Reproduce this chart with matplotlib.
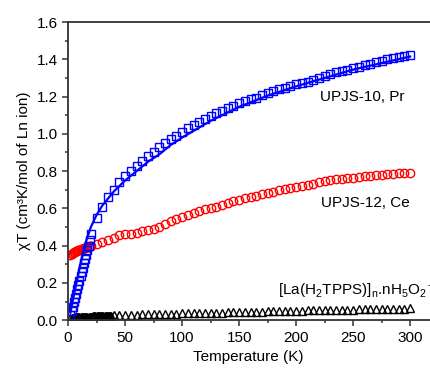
import matplotlib.pyplot as plt
from matplotlib.ticker import MultipleLocator

plt.rcParams['font.family'] = ['Liberation Sans', 'DejaVu Sans']
plt.rcParams['mathtext.fontset'] = 'custom'
plt.rcParams['mathtext.rm'] = 'Liberation Sans'
plt.rcParams['mathtext.it'] = 'Liberation Sans:italic'

# UPJS-10, Pr : chiT data (blue squares)
pr_t = [2, 3, 4, 5, 6, 7, 8, 9, 10, 11, 12, 13, 14, 15, 16, 17, 18, 19, 20,
        25, 30, 35, 40, 45, 50, 55, 60, 65, 70, 75, 80, 85, 90, 95, 100,
        105, 110, 115, 120, 125, 130, 135, 140, 145, 150, 155, 160, 165, 170,
        175, 180, 185, 190, 195, 200, 205, 210, 215, 220, 225, 230, 235, 240,
        245, 250, 255, 260, 265, 270, 275, 280, 285, 290, 295, 300]
pr_chi = [0.03, 0.05, 0.07, 0.095, 0.12, 0.14, 0.165, 0.19, 0.21, 0.235, 0.26,
          0.28, 0.305, 0.33, 0.35, 0.375, 0.40, 0.43, 0.46,
          0.55, 0.61, 0.66, 0.70, 0.74, 0.775, 0.80, 0.83, 0.855, 0.88, 0.905,
          0.93, 0.95, 0.975, 0.99, 1.01, 1.03, 1.045, 1.065, 1.08, 1.095, 1.11,
          1.125, 1.14, 1.15, 1.165, 1.175, 1.185, 1.195, 1.21, 1.22, 1.23, 1.24,
          1.245, 1.255, 1.265, 1.275, 1.28, 1.29, 1.30, 1.31, 1.32, 1.33, 1.335,
          1.345, 1.355, 1.36, 1.37, 1.375, 1.385, 1.39, 1.40, 1.405, 1.41, 1.42,
          1.425]

# Pr fit (blue line)
fit_t = [2, 5, 10, 15, 20, 25, 30, 40, 50, 60, 70, 80, 90, 100, 125, 150,
         175, 200, 225, 250, 275, 300]
fit_chi = [0.04, 0.13, 0.28, 0.41, 0.50, 0.565, 0.615, 0.69, 0.75, 0.80, 0.85,
           0.89, 0.94, 0.98, 1.07, 1.145, 1.205, 1.255, 1.30, 1.345, 1.38, 1.415]

# UPJS-12, Ce (red circles)
ce_t = [2, 3, 4, 5, 6, 7, 8, 9, 10, 11, 12, 13, 14, 15, 16, 17, 18, 19, 20,
        25, 30, 35, 40, 45, 50, 55, 60, 65, 70, 75, 80, 85, 90, 95, 100,
        105, 110, 115, 120, 125, 130, 135, 140, 145, 150, 155, 160, 165, 170,
        175, 180, 185, 190, 195, 200, 205, 210, 215, 220, 225, 230, 235, 240,
        245, 250, 255, 260, 265, 270, 275, 280, 285, 290, 295, 300]
ce_chi = [0.35, 0.355, 0.36, 0.365, 0.368, 0.37, 0.373, 0.376, 0.378, 0.38,
          0.382, 0.384, 0.386, 0.388, 0.39, 0.392, 0.395, 0.397, 0.40,
          0.41, 0.42, 0.43, 0.44, 0.455, 0.46, 0.465, 0.47, 0.478, 0.485, 0.49,
          0.50, 0.515, 0.53, 0.545, 0.555, 0.565, 0.575, 0.585, 0.595, 0.603,
          0.61, 0.62, 0.63, 0.638, 0.645, 0.653, 0.66, 0.668, 0.675, 0.683, 0.69,
          0.698, 0.705, 0.71, 0.715, 0.72, 0.725, 0.733, 0.74, 0.745, 0.75,
          0.755, 0.76, 0.763, 0.765, 0.768, 0.772, 0.775, 0.778, 0.781, 0.784,
          0.786, 0.788, 0.79, 0.792]

# [La(H2TPPS)]n.nH5O2+ (black triangles)
la_t = [2, 3, 4, 5, 6, 7, 8, 9, 10, 11, 12, 13, 14, 15, 16, 17, 18, 19, 20,
        21, 22, 23, 24, 25, 26, 27, 28, 29, 30, 31, 32, 33, 34, 35, 36, 37, 38,
        40, 45, 50, 55, 60, 65, 70, 75, 80, 85, 90, 95, 100, 105, 110, 115,
        120, 125, 130, 135, 140, 145, 150, 155, 160, 165, 170, 175, 180, 185,
        190, 195, 200, 205, 210, 215, 220, 225, 230, 235, 240, 245, 250, 255,
        260, 265, 270, 275, 280, 285, 290, 295, 300]
la_chi = [0.012, 0.013, 0.014, 0.014, 0.015, 0.015, 0.016, 0.016, 0.016, 0.017,
          0.017, 0.017, 0.018, 0.018, 0.018, 0.018, 0.019, 0.019, 0.019, 0.019,
          0.02, 0.02, 0.02, 0.02, 0.021, 0.021, 0.021, 0.021, 0.022, 0.022,
          0.022, 0.022, 0.023, 0.023, 0.023, 0.023, 0.024,
          0.026, 0.027, 0.028, 0.029, 0.03, 0.031, 0.031, 0.032, 0.033, 0.034,
          0.034, 0.035, 0.036, 0.037, 0.037, 0.038, 0.039, 0.04, 0.04, 0.041,
          0.042, 0.043, 0.043, 0.044, 0.045, 0.046, 0.046, 0.047, 0.048, 0.049,
          0.049, 0.05, 0.051, 0.051, 0.052, 0.053, 0.053, 0.054, 0.055, 0.055,
          0.056, 0.057, 0.057, 0.058, 0.058, 0.059, 0.06, 0.06, 0.061, 0.061,
          0.062, 0.062, 0.063]

fig = plt.figure(figsize=(4.31, 3.74), dpi=100)
ax = fig.add_axes([0.158, 0.144, 0.873, 0.797])

ax.plot(la_t, la_chi, ls='none', marker='^', ms=6, mfc='none', mec='black', mew=1.0)
ax.plot(ce_t, ce_chi, ls='none', marker='o', ms=6, mfc='none', mec='#ff0000', mew=1.0)
ax.plot(pr_t, pr_chi, ls='none', marker='s', ms=6, mfc='none', mec='#0000ff', mew=1.0)
ax.plot(fit_t, fit_chi, color='#0000ff', lw=1.6)

ax.text(221, 1.176, 'UPJS-10, Pr', fontsize=11, va='baseline')
ax.text(222, 0.605, 'UPJS-12, Ce', fontsize=11, va='baseline')
ax.text(184, 0.13, r'[La(H$_2$TPPS)]$_\mathregular{n}$.nH$_5$O$_2$$^+$', fontsize=11, va='baseline')

ax.set_xlim(0, 330)
ax.set_ylim(0, 1.6)
ax.xaxis.set_major_locator(MultipleLocator(50))
ax.xaxis.set_minor_locator(MultipleLocator(25))
ax.yaxis.set_major_locator(MultipleLocator(0.2))
ax.yaxis.set_minor_locator(MultipleLocator(0.1))
ax.yaxis.set_major_formatter(plt.FuncFormatter(lambda v, p: f'{v:.1f}'))
ax.set_xticks([0, 50, 100, 150, 200, 250, 300])

for s in ax.spines.values():
    s.set_linewidth(1.3)
    s.set_color('#333333')
ax.tick_params(which='major', direction='out', length=4, width=1.1, labelsize=11, color='#333333')
ax.tick_params(which='minor', direction='out', length=2.5, width=1.1, color='#333333')

ax.set_xlabel('Temperature (K)', fontsize=11)
ax.set_ylabel('χT (cm³K/mol of Ln ion)', fontsize=11, labelpad=4)
ax.xaxis.set_label_coords(0.48, -0.1)

fig.savefig('out.png', dpi=100)
